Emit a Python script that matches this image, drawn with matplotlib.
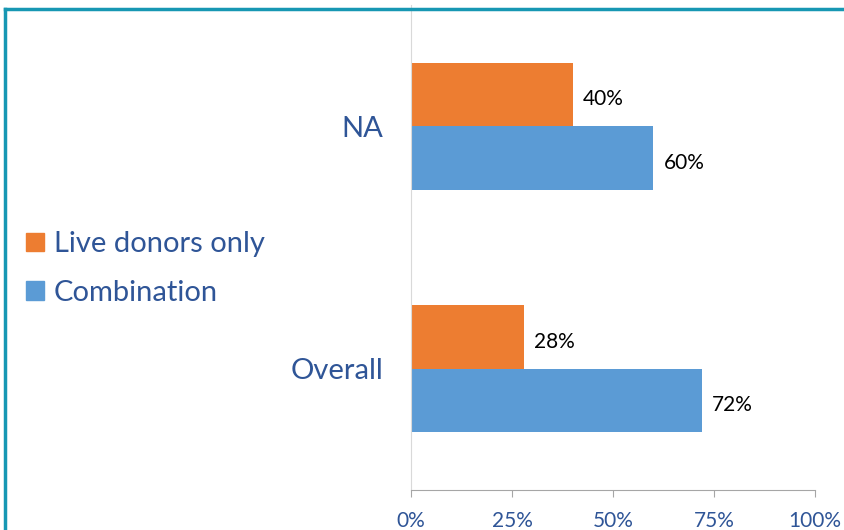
import matplotlib
matplotlib.use("Agg")
import matplotlib.pyplot as plt
from matplotlib.lines import Line2D
from matplotlib.patches import Patch
import numpy as np

categories = ["Overall", "NA"]
live_only = [28, 40]
combination = [72, 60]
series_names = ["Live donors only", "Combination"]
x_ticks = [0, 25, 50, 75, 100]

ORANGE = "#ED7D31"
BLUE = "#5B9BD5"
TEXT = "#2F5597"
FONT = "Lato"

fig = plt.figure(figsize=(8.45, 5.3), dpi=100)
ax = fig.add_axes([411 / 845, 1 - 490 / 530, (815 - 411) / 845, (490 - 5) / 530])

y = np.arange(len(categories))
h = 0.262
ax.barh(y + h / 2, live_only, height=h, color=ORANGE)
ax.barh(y - h / 2, combination, height=h, color=BLUE)

for yi, v in zip(y + h / 2, live_only):
    ax.text(v + 2.5, yi - 0.02, f"{v}%", va="center", ha="left", fontsize=15,
            family=FONT, color="black")
for yi, v in zip(y - h / 2, combination):
    ax.text(v + 2.5, yi - 0.02, f"{v}%", va="center", ha="left", fontsize=15,
            family=FONT, color="black")

ax.set_xlim(0, 100)
ax.set_ylim(-0.5, 1.5)
ax.set_xticks(x_ticks)
ax.set_xticklabels([f"{t}%" for t in x_ticks], fontsize=15, family=FONT, color=TEXT)
ax.set_yticks(y)
ax.set_yticklabels(categories, fontsize=21, family=FONT, color=TEXT)
ax.tick_params(axis="y", length=0, pad=20)
ax.tick_params(axis="x", length=5, color="#A6A6A6", pad=10)

for s in ["top", "right"]:
    ax.spines[s].set_visible(False)
ax.spines["left"].set_color("#D9D9D9")
ax.spines["bottom"].set_color("#A6A6A6")

handles = [Patch(color=ORANGE), Patch(color=BLUE)]
leg = fig.legend(handles, series_names, loc="upper left", bbox_to_anchor=(0.0, 1 - 205 / 530),
                 frameon=False, handlelength=0.6, handleheight=0.6,
                 handletextpad=0.35, labelspacing=0.78, prop={"family": FONT, "size": 21})
for t in leg.get_texts():
    t.set_color(TEXT)

# outer teal frame (top and left edges visible)
fig.add_artist(Line2D([5 / 845, 1], [1 - 9 / 530, 1 - 9 / 530], transform=fig.transFigure,
                      color="#1797B3", linewidth=2.5))
fig.add_artist(Line2D([5 / 845, 5 / 845], [0, 1 - 9 / 530], transform=fig.transFigure,
                      color="#1797B3", linewidth=2.5))

fig.savefig("out.png", dpi=100)
